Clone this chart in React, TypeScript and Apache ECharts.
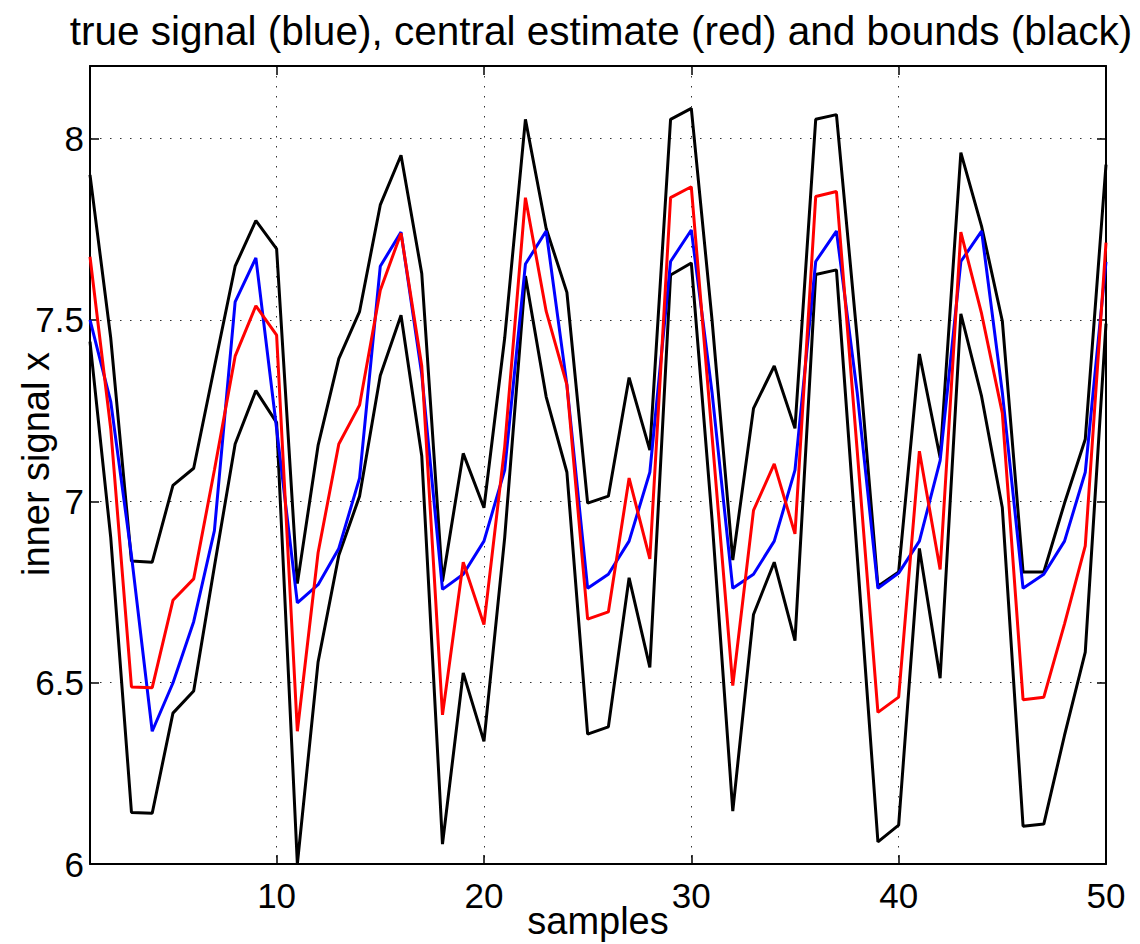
import React, { useEffect, useRef } from "react";
import * as echarts from "echarts";

const samples: number[] = Array.from({ length: 50 }, (_, i) => i + 1);

const trueSignal: number[] = [
  7.5, 7.275, 6.85, 6.366, 6.499, 6.668, 6.919, 7.55, 7.671, 7.2,
  6.72, 6.77, 6.87, 7.064, 7.648, 7.742, 7.35, 6.757, 6.799, 6.89,
  7.086, 7.654, 7.745, 7.321, 6.76, 6.799, 6.89, 7.08, 7.661, 7.748,
  7.3, 6.76, 6.799, 6.89, 7.086, 7.661, 7.745, 7.3, 6.76, 6.802,
  6.89, 7.112, 7.661, 7.745, 7.3, 6.76, 6.799, 6.89, 7.08, 7.66,
];

const centralEstimate: number[] = [
  7.674, 7.2, 6.488, 6.486, 6.727, 6.786, 7.086, 7.4, 7.539, 7.458,
  6.366, 6.858, 7.158, 7.265, 7.582, 7.739, 7.373, 6.411, 6.832, 6.66,
  7.15, 7.837, 7.524, 7.321, 6.675, 6.695, 7.064, 6.841, 7.837, 7.867,
  7.18, 6.492, 6.975, 7.103, 6.91, 7.84, 7.854, 7.14, 6.418, 6.46,
  7.138, 6.812, 7.742, 7.517, 7.243, 6.453, 6.46, 6.662, 6.877, 7.713,
];

const upperBound: number[] = [
  7.9, 7.45, 6.835, 6.832, 7.044, 7.091, 7.37, 7.648, 7.774, 7.696,
  6.773, 7.154, 7.393, 7.523, 7.817, 7.954, 7.628, 6.779, 7.132, 6.982,
  7.45, 8.053, 7.752, 7.576, 6.995, 7.014, 7.341, 7.141, 8.053, 8.083,
  7.5, 6.838, 7.256, 7.373, 7.201, 8.053, 8.066, 7.45, 6.766, 6.805,
  7.406, 7.12, 7.961, 7.758, 7.497, 6.805, 6.805, 6.995, 7.171, 7.928,
];

const lowerBound: number[] = [
  7.44, 6.9, 6.142, 6.14, 6.416, 6.477, 6.82, 7.158, 7.305, 7.217,
  6.0, 6.557, 6.851, 7.014, 7.347, 7.513, 7.125, 6.055, 6.527, 6.338,
  6.9, 7.621, 7.288, 7.08, 6.358, 6.378, 6.789, 6.542, 7.624, 7.657,
  6.95, 6.146, 6.688, 6.832, 6.616, 7.625, 7.638, 6.85, 6.061, 6.107,
  6.87, 6.512, 7.517, 7.289, 6.982, 6.104, 6.11, 6.355, 6.584, 7.49,
];

const titleText = "true signal (blue), central estimate (red) and bounds (black)";
const xName = "samples";
const yName = "inner signal x";

const FONT = "'Liberation Sans', Arial, Helvetica, sans-serif";

export default function App() {
  const ref = useRef<HTMLDivElement>(null);

  useEffect(() => {
    document.body.style.margin = "0";
    if (!ref.current) return;
    const chart = echarts.init(ref.current, undefined, { renderer: "svg" });

    const pairs = (vals: number[]) => samples.map((s, i) => [s, vals[i]]);
    const lineSeries = (name: string, vals: number[], color: string) => ({
      name,
      type: "line",
      data: pairs(vals),
      showSymbol: false,
      symbol: "none",
      lineStyle: { color, width: 3 },
      itemStyle: { color },
      z: 3,
    });

    const gridDots = { type: [1.5, 8.5] as any, color: "#333", width: 1 };

    chart.setOption({
      animation: false,
      backgroundColor: "#fff",
      title: {
        text: titleText,
        left: 596,
        textAlign: "center",
        top: 5,
        textStyle: {
          fontFamily: FONT,
          fontSize: 40.5,
          fontWeight: "normal",
          color: "#000",
        },
      },
      grid: {
        left: 90,
        top: 66,
        width: 1016,
        height: 798,
        containLabel: false,
        outerBoundsMode: "none",
      },
      graphic: [
        {
          type: "text",
          x: 598,
          y: 921,
          style: {
            text: xName,
            font: `38px ${FONT}`,
            fill: "#000",
            align: "center",
            verticalAlign: "middle",
          },
        },
        {
          type: "text",
          x: 36,
          y: 464,
          rotation: Math.PI / 2,
          style: {
            text: yName,
            font: `38px ${FONT}`,
            fill: "#000",
            align: "center",
            verticalAlign: "middle",
          },
        },
      ],
      xAxis: [
        {
          type: "value",
          min: 1,
          max: 50,
          splitNumber: 5,
          position: "bottom",
          axisLine: { show: true, lineStyle: { color: "#000", width: 2 } },
          axisTick: { show: true, inside: true, length: 9, lineStyle: { color: "#000", width: 1.5 } },
          axisLabel: {
            show: true,
            showMinLabel: false,
            margin: 14,
            fontFamily: FONT,
            fontSize: 35,
            color: "#000",
          },
          splitLine: { show: true, lineStyle: gridDots },
        },
        {
          type: "value",
          min: 1,
          max: 50,
          splitNumber: 5,
          position: "top",
          axisLine: { show: true, lineStyle: { color: "#000", width: 2 } },
          axisTick: { show: true, inside: true, length: 9, lineStyle: { color: "#000", width: 1.5 } },
          axisLabel: { show: false },
          splitLine: { show: false },
        },
      ],
      yAxis: [
        {
          type: "value",
          min: 6,
          max: 8.2,
          interval: 0.5,
          position: "left",
          axisLine: { show: true, lineStyle: { color: "#000", width: 2 } },
          axisTick: { show: true, inside: true, length: 9, lineStyle: { color: "#000", width: 1.5 } },
          axisLabel: {
            show: true,
            showMaxLabel: false,
            margin: 6,
            fontFamily: FONT,
            fontSize: 35,
            color: "#000",
          },
          splitLine: { show: true, lineStyle: gridDots },
        },
        {
          type: "value",
          min: 6,
          max: 8.2,
          interval: 0.5,
          position: "right",
          axisLine: { show: true, lineStyle: { color: "#000", width: 2 } },
          axisTick: { show: true, inside: true, length: 9, lineStyle: { color: "#000", width: 1.5 } },
          axisLabel: { show: false },
          splitLine: { show: false },
        },
      ],
      series: [
        lineSeries("upper bound", upperBound, "#000000"),
        lineSeries("lower bound", lowerBound, "#000000"),
        lineSeries("true signal", trueSignal, "#0000ff"),
        lineSeries("central estimate", centralEstimate, "#ff0000"),
      ],
    });

    return () => chart.dispose();
  }, []);

  return <div ref={ref} style={{ width: 1140, height: 944 }} />;
}
